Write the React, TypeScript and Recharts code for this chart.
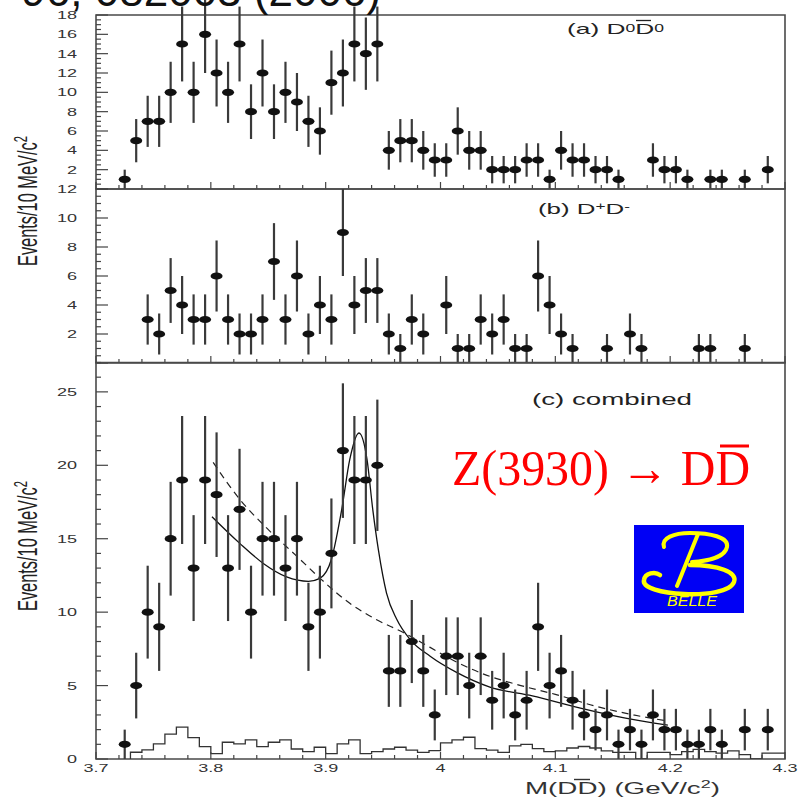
import { ComposedChart, Scatter, ErrorBar, Line, XAxis, YAxis, ReferenceArea } from 'recharts';

const FONT = '"Liberation Sans", Arial, Helvetica, sans-serif';

// (a) D0 D0bar: bin centres (GeV/c^2) and events per 10 MeV/c^2
const massA = [3.725, 3.735, 3.745, 3.755, 3.765, 3.775, 3.785, 3.795, 3.805, 3.815, 3.825, 3.835, 3.845, 3.855, 3.865, 3.875, 3.885, 3.895, 3.905, 3.915, 3.925, 3.935, 3.945, 3.955, 3.965, 3.975, 3.985, 3.995, 4.005, 4.015, 4.025, 4.035, 4.045, 4.055, 4.065, 4.075, 4.085, 4.095, 4.105, 4.115, 4.125, 4.135, 4.145, 4.155, 4.185, 4.195, 4.205, 4.215, 4.235, 4.245, 4.265, 4.285];
const countsA = [1, 5, 7, 7, 10, 15, 10, 16, 12, 10, 15, 8, 12, 8, 10, 9, 7, 6, 11, 12, 15, 14, 15, 4, 5, 5, 4, 3, 3, 6, 4, 4, 2, 2, 2, 3, 3, 1, 4, 3, 3, 2, 2, 1, 3, 2, 2, 1, 1, 1, 1, 2];

// (b) D+ D-
const massB = [3.745, 3.755, 3.765, 3.775, 3.785, 3.795, 3.805, 3.815, 3.825, 3.835, 3.845, 3.855, 3.865, 3.875, 3.885, 3.895, 3.905, 3.915, 3.925, 3.935, 3.945, 3.955, 3.965, 3.975, 3.985, 4.005, 4.015, 4.025, 4.035, 4.045, 4.055, 4.065, 4.075, 4.085, 4.095, 4.105, 4.115, 4.145, 4.165, 4.175, 4.225, 4.235, 4.265];
const countsB = [3, 2, 5, 4, 3, 3, 6, 3, 2, 2, 3, 7, 3, 6, 2, 4, 3, 9, 4, 5, 5, 2, 1, 3, 2, 4, 1, 1, 3, 2, 3, 1, 1, 6, 4, 2, 1, 1, 2, 1, 1, 1, 1];

// (c) combined
const massC = [3.725, 3.735, 3.745, 3.755, 3.765, 3.775, 3.785, 3.795, 3.805, 3.815, 3.825, 3.835, 3.845, 3.855, 3.865, 3.875, 3.885, 3.895, 3.905, 3.915, 3.925, 3.935, 3.945, 3.955, 3.965, 3.975, 3.985, 3.995, 4.005, 4.015, 4.025, 4.035, 4.045, 4.055, 4.065, 4.075, 4.085, 4.095, 4.105, 4.115, 4.125, 4.135, 4.145, 4.155, 4.165, 4.175, 4.185, 4.195, 4.205, 4.215, 4.225, 4.235, 4.245, 4.265, 4.285];
const countsC = [1, 5, 10, 9, 15, 19, 13, 19, 18, 13, 17, 10, 15, 15, 13, 15, 9, 10, 14, 21, 19, 19, 20, 6, 6, 8, 6, 3, 7, 7, 5, 7, 4, 5, 3, 4, 9, 5, 6, 4, 3, 2, 3, 1, 2, 1, 3, 2, 2, 1, 1, 2, 1, 2, 2];

// (c) background histogram: lower bin edges and contents
const histEdges = [3.73, 3.74, 3.75, 3.76, 3.77, 3.78, 3.79, 3.80, 3.81, 3.82, 3.83, 3.84, 3.85, 3.86, 3.87, 3.88, 3.89, 3.90, 3.91, 3.92, 3.93, 3.94, 3.95, 3.96, 3.97, 3.98, 3.99, 4.00, 4.01, 4.02, 4.03, 4.04, 4.05, 4.06, 4.07, 4.08, 4.09, 4.10, 4.11, 4.12, 4.13, 4.14, 4.15, 4.16, 4.17, 4.18, 4.19, 4.20, 4.21, 4.22, 4.23, 4.24, 4.25, 4.26, 4.27, 4.28, 4.29];
const histCounts = [0.46, 0.62, 1.03, 1.69, 2.17, 1.46, 0.84, 0.37, 1.14, 1.03, 1.3, 0.84, 1.14, 1.3, 0.68, 0.5, 0.8, 0.37, 1.03, 1.3, 0.37, 0.5, 0.68, 0.8, 0.6, 0.45, 0.57, 1.1, 1.3, 1.48, 0.7, 0.6, 0.45, 0.9, 1.0, 0.7, 0.5, 0.55, 0.75, 0.85, 0.75, 0.55, 0.45, 0.45, 0, 0.45, 0.45, 0.3, 0.5, 0.65, 0.5, 0.4, 0.55, 0.3, 0, 0.4, 0.4];
const histEnd = 4.3;

// (c) fit with resonance (solid) and background-only fit (dashed)
const fitMass = [3.801, 3.825, 3.846, 3.866, 3.885, 3.895, 3.905, 3.914, 3.921, 3.929, 3.936, 3.941, 3.946, 3.953, 3.962, 3.974, 3.991, 4.014, 4.043, 4.08, 4.12, 4.16, 4.198];
const fitValue = [16.5, 14.7, 13.3, 12.4, 12.1, 12.3, 13.6, 17.0, 20.4, 22.2, 20.4, 17.0, 14.2, 11.3, 9.5, 8.1, 7.0, 5.9, 4.9, 4.3, 3.5, 2.8, 2.3];
const bkgMass = [3.802, 3.825, 3.849, 3.875, 3.898, 3.921, 3.944, 3.968, 3.991, 4.014, 4.037, 4.07, 4.1, 4.135, 4.168, 4.197];
const bkgValue = [20.2, 17.7, 15.7, 13.8, 12.1, 10.6, 9.5, 8.6, 7.6, 6.6, 5.8, 5.0, 4.4, 3.6, 3.0, 2.6];

// axis ticks and labels
const xMajor = [3.7, 3.8, 3.9, 4.0, 4.1, 4.2, 4.3];
const xLabels = ['3.7', '3.8', '3.9', '4', '4.1', '4.2', '4.3'];
const yMajorA = [2, 4, 6, 8, 10, 12, 14, 16, 18];
const yLabelsA = ['2', '4', '6', '8', '10', '12', '14', '16', '18'];
const yMajorB = [2, 4, 6, 8, 10, 12];
const yLabelsB = ['2', '4', '6', '8', '10', '12'];
const yMajorC = [0, 5, 10, 15, 20, 25];
const yLabelsC = ['0', '5', '10', '15', '20', '25'];

function range(a: number, b: number, step: number) {
  const out: number[] = [];
  for (let v = a; v <= b + 1e-9; v += step) out.push(Math.round(v * 1000) / 1000);
  return out;
}

const xTicks = range(3.7, 4.3, 0.02);

// Poisson errors on the counts
const toPoints = (mass: number[], counts: number[]) =>
  mass.map((m, i) => ({ x: m, y: counts[i], err: Math.sqrt(counts[i]) }));

const pointsA = toPoints(massA, countsA);
const pointsB = toPoints(massB, countsB);
const pointsC = toPoints(massC, countsC);
const histData = [{ x: histEdges[0], y: 0 }, ...histEdges.map((e, i) => ({ x: e, y: histCounts[i] })), { x: histEnd, y: histCounts[histCounts.length - 1] }];
const fitData = fitMass.map((m, i) => ({ x: m, y: fitValue[i] }));
const bkgData = bkgMass.map((m, i) => ({ x: m, y: bkgValue[i] }));

const near = (a: number, b: number) => Math.abs(a - b) < 1e-6;

const makeXTick = (withLabels: boolean) => (p: any) => {
  const v = p.payload.value;
  const i = xMajor.findIndex(m => near(m, v));
  const len = i >= 0 ? 7 : 4;
  return (
    <g>
      <line x1={p.x} x2={p.x} y1={p.y} y2={p.y - len} stroke="#444" strokeWidth={1.2} />
      {withLabels && i >= 0 && (
        <text transform={`translate(${p.x},${p.y + 12.7}) scale(1.64,1)`} textAnchor="middle" fontSize={11} fill="#333" fontFamily={FONT}>
          {xLabels[i]}
        </text>
      )}
    </g>
  );
};

const makeYTick = (majors: number[], labels: string[], step: number) => (p: any) => {
  const v = p.payload.value;
  const isMajor = near(v / step, Math.round(v / step));
  const li = majors.findIndex(m => near(m, v));
  return (
    <g>
      <line x1={p.x} x2={p.x + (isMajor ? 12 : 5)} y1={p.y} y2={p.y} stroke="#444" strokeWidth={1.2} />
      {li >= 0 && (
        <text transform={`translate(${p.x - 19},${p.y + 4}) scale(1.64,1)`} textAnchor="end" fontSize={11} fill="#333" fontFamily={FONT}>
          {labels[li]}
        </text>
      )}
    </g>
  );
};

const Dot = (p: any) => <ellipse cx={p.cx} cy={p.cy} rx={6} ry={3.6} fill="#111" />;

function panel(opts: {
  top: number; height: number; mt: number; xh: number; yMax: number;
  majors: number[]; labels: string[]; step: number; minor: number;
  points: any[]; xLabelsOn: boolean; extra?: any;
}) {
  return (
    <div style={{ position: 'absolute', left: 0, top: opts.top }}>
      <ComposedChart width={798} height={opts.height} margin={{ top: opts.mt, right: 13, bottom: 0, left: 0 }}>
        <XAxis dataKey="x" type="number" domain={[3.7, 4.3]} ticks={xTicks} interval={0} allowDataOverflow
          height={opts.xh} tickSize={0} tickMargin={0} axisLine={false} tickLine={false} tick={makeXTick(opts.xLabelsOn)} />
        <YAxis dataKey="y" type="number" domain={[0, opts.yMax]} ticks={range(0, opts.yMax, opts.minor)} interval={0} allowDataOverflow
          width={96} tickSize={0} tickMargin={0} axisLine={false} tickLine={false} tick={makeYTick(opts.majors, opts.labels, opts.step)} />
        <ReferenceArea x1={3.7} x2={4.3} y1={0} y2={opts.yMax} fill="none" stroke="#4a4a4a" strokeWidth={1.6} ifOverflow="visible" />
        {opts.extra}
        <Scatter data={opts.points} dataKey="y" shape={Dot} isAnimationActive={false}>
          <ErrorBar dataKey="err" direction="y" width={0} stroke="#3a3a3a" strokeWidth={2.2} />
        </Scatter>
      </ComposedChart>
    </div>
  );
}

export default function App() {
  const extraC = [
    <Line key="h" data={histData} dataKey="y" type="stepAfter" stroke="#333" strokeWidth={1.3} dot={false} isAnimationActive={false} />,
    <Line key="b" data={bkgData} dataKey="y" type="monotone" stroke="#222" strokeWidth={1.2} strokeDasharray="7 5" dot={false} isAnimationActive={false} />,
    <Line key="f" data={fitData} dataKey="y" type="monotone" stroke="#111" strokeWidth={1.3} dot={false} isAnimationActive={false} />,
  ];
  return (
    <div style={{ position: 'fixed', left: 0, top: 0, width: 798, height: 799, background: '#fff', overflow: 'hidden', fontFamily: FONT }}>
      {panel({ top: 0, height: 200, mt: 15, xh: 11, yMax: 18, majors: yMajorA, labels: yLabelsA, step: 2, minor: 0.5, points: pointsA, xLabelsOn: false })}
      {panel({ top: 180, height: 190, mt: 9, xh: 7, yMax: 12, majors: yMajorB, labels: yLabelsB, step: 2, minor: 0.5, points: pointsB, xLabelsOn: false })}
      {panel({ top: 355, height: 444, mt: 7.5, xh: 40, yMax: 27, majors: yMajorC, labels: yLabelsC, step: 5, minor: 1, points: pointsC, xLabelsOn: true, extra: extraC })}

      <svg width={798} height={799} style={{ position: 'absolute', left: 0, top: 0, pointerEvents: 'none' }}>
        {/* reference line, cut off by the top edge as in the original */}
        <text x={381} y={6} textAnchor="end" fontSize={44} fill="#111" fontFamily={FONT}>96, 082003 (2006)</text>

        {/* panel labels */}
        <text x={567} y={34} fontSize={15} fill="#222" fontFamily={FONT} textLength={97} lengthAdjust="spacingAndGlyphs">
          (a) D<tspan dy={-2.5} fontSize={10}>0</tspan><tspan dy={2.5}>D</tspan><tspan dy={-2.5} fontSize={10}>0</tspan>
        </text>
        <line x1={636} x2={651} y1={20.5} y2={20.5} stroke="#222" strokeWidth={1.3} />
        <text x={538} y={214} fontSize={15} fill="#222" fontFamily={FONT} textLength={92} lengthAdjust="spacingAndGlyphs">
          (b) D<tspan dy={-4} fontSize={10}>+</tspan><tspan dy={4}>D</tspan><tspan dy={-4} fontSize={10}>-</tspan>
        </text>
        <text x={532} y={405} fontSize={16} fill="#222" fontFamily={FONT} textLength={160} lengthAdjust="spacingAndGlyphs">(c) combined</text>

        {/* axis titles */}
        <text transform="translate(37,201) scale(1.7,1) rotate(-90)" textAnchor="middle" fontSize={16} fill="#222" fontFamily={FONT} textLength={130} lengthAdjust="spacingAndGlyphs">
          Events/10 MeV/c<tspan dy={-6} fontSize={11}>2</tspan>
        </text>
        <text transform="translate(37,546) scale(1.7,1) rotate(-90)" textAnchor="middle" fontSize={16} fill="#222" fontFamily={FONT} textLength={130} lengthAdjust="spacingAndGlyphs">
          Events/10 MeV/c<tspan dy={-6} fontSize={11}>2</tspan>
        </text>
        <text x={525} y={794} fontSize={17} fill="#333" fontFamily={FONT} textLength={195} lengthAdjust="spacingAndGlyphs">
          M(DD) (GeV/c<tspan dy={-6} fontSize={11}>2</tspan><tspan dy={6}>)</tspan>
        </text>
        <line x1={574} x2={590} y1={779.5} y2={779.5} stroke="#333" strokeWidth={1.4} />

        {/* annotation */}
        <text x={452} y={485} fontSize={50} fill="#ff0000" fontFamily={'"Liberation Serif", "Times New Roman", serif'} textLength={298} lengthAdjust="spacingAndGlyphs">
          Z(3930) → DD
        </text>
        <line x1={720} x2={749} y1={446} y2={446} stroke="#ff0000" strokeWidth={3} />

        {/* Belle logo */}
        <g transform="translate(634,525)">
          <rect x={0} y={0} width={110} height={88} fill="#0000f5" />
          <path d="M 30 22 C 27 13, 40 8, 56 8 C 76 8, 95 12, 93 22 C 91 32, 74 36, 58 37" fill="none" stroke="#ffff00" strokeWidth={4} strokeLinecap="round" />
          <path d="M 64 9 L 43 61" fill="none" stroke="#ffff00" strokeWidth={4} strokeLinecap="round" />
          <path d="M 56 40 C 84 40, 104 47, 100 57 C 96 67, 72 70, 50 69 C 28 68, 8 63, 10 55 C 11 48, 21 46, 26 50" fill="none" stroke="#ffff00" strokeWidth={4.5} strokeLinecap="round" />
          <text x={33} y={81} fontSize={15} fontStyle="italic" fill="#ffff00" fontFamily={FONT} textLength={50} lengthAdjust="spacingAndGlyphs">BELLE</text>
        </g>
      </svg>
    </div>
  );
}
